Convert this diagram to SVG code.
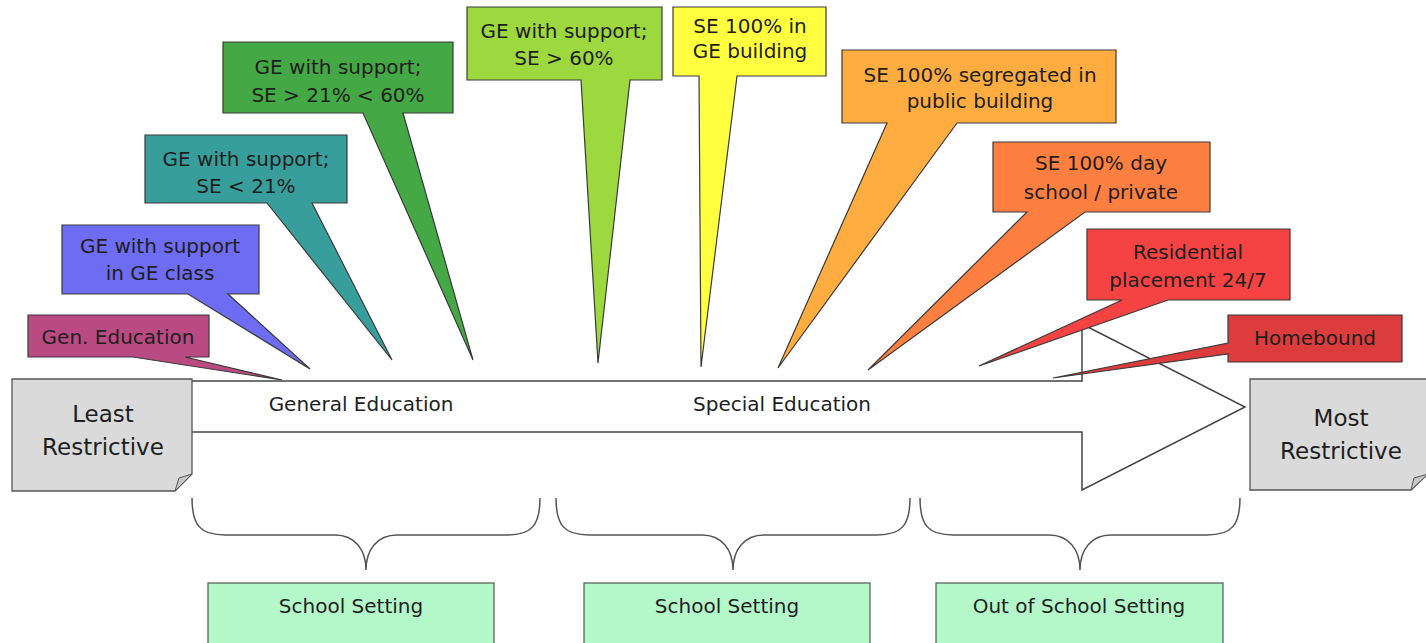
<svg xmlns="http://www.w3.org/2000/svg" width="1426" height="643" viewBox="0 0 1426 643">
  <style>
    text { font-family: "DejaVu Sans", "Liberation Sans", sans-serif; fill: #1e1e1e; text-anchor: middle; }
    .lbl { font-size: 20px; }
    .big { font-size: 23px; }
    .callout { stroke: #3a3a3a; stroke-width: 1.2; stroke-linejoin: miter; }
    .end { fill: #dadada; stroke: #555; stroke-width: 1.3; }
    .fold { fill: #c8c8c8; stroke: #555; stroke-width: 1; }
    .brace { fill: none; stroke: #555; stroke-width: 1.5; }
    .setting { fill: #b4f7c9; stroke: #555; stroke-width: 1.2; }
  </style>

  <!-- main arrow and grouping braces -->
  <g id="connectors">
    <path d="M150,381 H1082 V324 L1245,407 L1082,490 V432 H150 Z" fill="#ffffff" stroke="#444" stroke-width="1.5"/>
    <path class="brace" d="M192,498 C192,525 200,535 225,535 H335 C355,535 366,550 366,570 C366,550 377,535 397,535 H507 C532,535 540,525 540,498"/>
    <path class="brace" d="M556,498 C556,525 564,535 589,535 H702 C722,535 733,550 733,570 C733,550 744,535 764,535 H877 C902,535 910,525 910,498"/>
    <path class="brace" d="M920,498 C920,525 928,535 953,535 H1049 C1069,535 1080,550 1080,570 C1080,550 1091,535 1111,535 H1207 C1232,535 1240,525 1240,498"/>
  </g>

  <g id="label-general">
    <text class="lbl" x="361" y="411">General Education</text>
  </g>
  <g id="label-special">
    <text class="lbl" x="782" y="411">Special Education</text>
  </g>

  <!-- end boxes -->
  <g id="least-restrictive">
    <path class="end" d="M12,379 H192 V474 L175,491 H12 Z"/>
    <path class="fold" d="M192,474 L179,478 L175,491 Z"/>
    <text class="big" x="103" y="422">Least</text>
    <text class="big" x="103" y="455">Restrictive</text>
  </g>
  <g id="most-restrictive">
    <path class="end" d="M1250,379 H1428 V474 L1411,490 H1250 Z"/>
    <path class="fold" d="M1428,474 L1414,478 L1411,490 Z"/>
    <text class="big" x="1341" y="426">Most</text>
    <text class="big" x="1341" y="459">Restrictive</text>
  </g>

  <!-- placement callouts -->
  <g id="gen-education">
    <path class="callout" fill="#b94a82" d="M28,315 H209 V357 H185 L282,380 L133,357 H28 Z"/>
    <text class="lbl" x="118" y="344">Gen. Education</text>
  </g>
  <g id="ge-class">
    <path class="callout" fill="#6e6cf2" d="M62,225 H259 V294 H228 L310,369 L188,294 H62 Z"/>
    <text class="lbl" x="160" y="253">GE with support</text>
    <text class="lbl" x="160" y="280">in GE class</text>
  </g>
  <g id="se-under-21">
    <path class="callout" fill="#389e9b" d="M145,135 H347 V203 H312 L392,360 L267,203 H145 Z"/>
    <text class="lbl" x="246" y="166">GE with support;</text>
    <text class="lbl" x="246" y="193">SE &lt; 21%</text>
  </g>
  <g id="se-21-60">
    <path class="callout" fill="#44a844" d="M223,42 H453 V113 H403 L473,360 L363,113 H223 Z"/>
    <text class="lbl" x="338" y="74">GE with support;</text>
    <text class="lbl" x="338" y="102">SE &gt; 21% &lt; 60%</text>
  </g>
  <g id="se-over-60">
    <path class="callout" fill="#9cd83e" d="M467,7 H662 V80 H630 L598,363 L581,80 H467 Z"/>
    <text class="lbl" x="564" y="38">GE with support;</text>
    <text class="lbl" x="564" y="65">SE &gt; 60%</text>
  </g>
  <g id="se-ge-building">
    <path class="callout" fill="#ffff40" d="M673,7 H826 V76 H737 L701,367 L699,76 H673 Z"/>
    <text class="lbl" x="750" y="33">SE 100% in</text>
    <text class="lbl" x="750" y="58">GE building</text>
  </g>
  <g id="se-public-building">
    <path class="callout" fill="#ffad40" d="M842,50 H1116 V123 H957 L778,368 L887,123 H842 Z"/>
    <text class="lbl" x="980" y="82">SE 100% segregated in</text>
    <text class="lbl" x="980" y="108">public building</text>
  </g>
  <g id="se-day-school">
    <path class="callout" fill="#ff7f40" d="M993,142 H1210 V212 H1085 L868,370 L1027,212 H993 Z"/>
    <text class="lbl" x="1101" y="170">SE 100% day</text>
    <text class="lbl" x="1101" y="199">school / private</text>
  </g>
  <g id="residential">
    <path class="callout" fill="#f54242" d="M1087,229 H1290 V300 H1168 L979,366 L1122,300 H1087 Z"/>
    <text class="lbl" x="1188" y="259">Residential</text>
    <text class="lbl" x="1188" y="287">placement 24/7</text>
  </g>
  <g id="homebound">
    <path class="callout" fill="#dc3c3c" d="M1228,315 H1402 V362 H1228 V354 L1053,378 L1228,343 Z"/>
    <text class="lbl" x="1315" y="345">Homebound</text>
  </g>

  <!-- setting labels -->
  <g id="setting-1">
    <rect class="setting" x="208" y="583" width="286" height="70"/>
    <text class="lbl" x="351" y="613">School Setting</text>
  </g>
  <g id="setting-2">
    <rect class="setting" x="584" y="583" width="286" height="70"/>
    <text class="lbl" x="727" y="613">School Setting</text>
  </g>
  <g id="setting-3">
    <rect class="setting" x="936" y="583" width="287" height="70"/>
    <text class="lbl" x="1079" y="613">Out of School Setting</text>
  </g>
</svg>
